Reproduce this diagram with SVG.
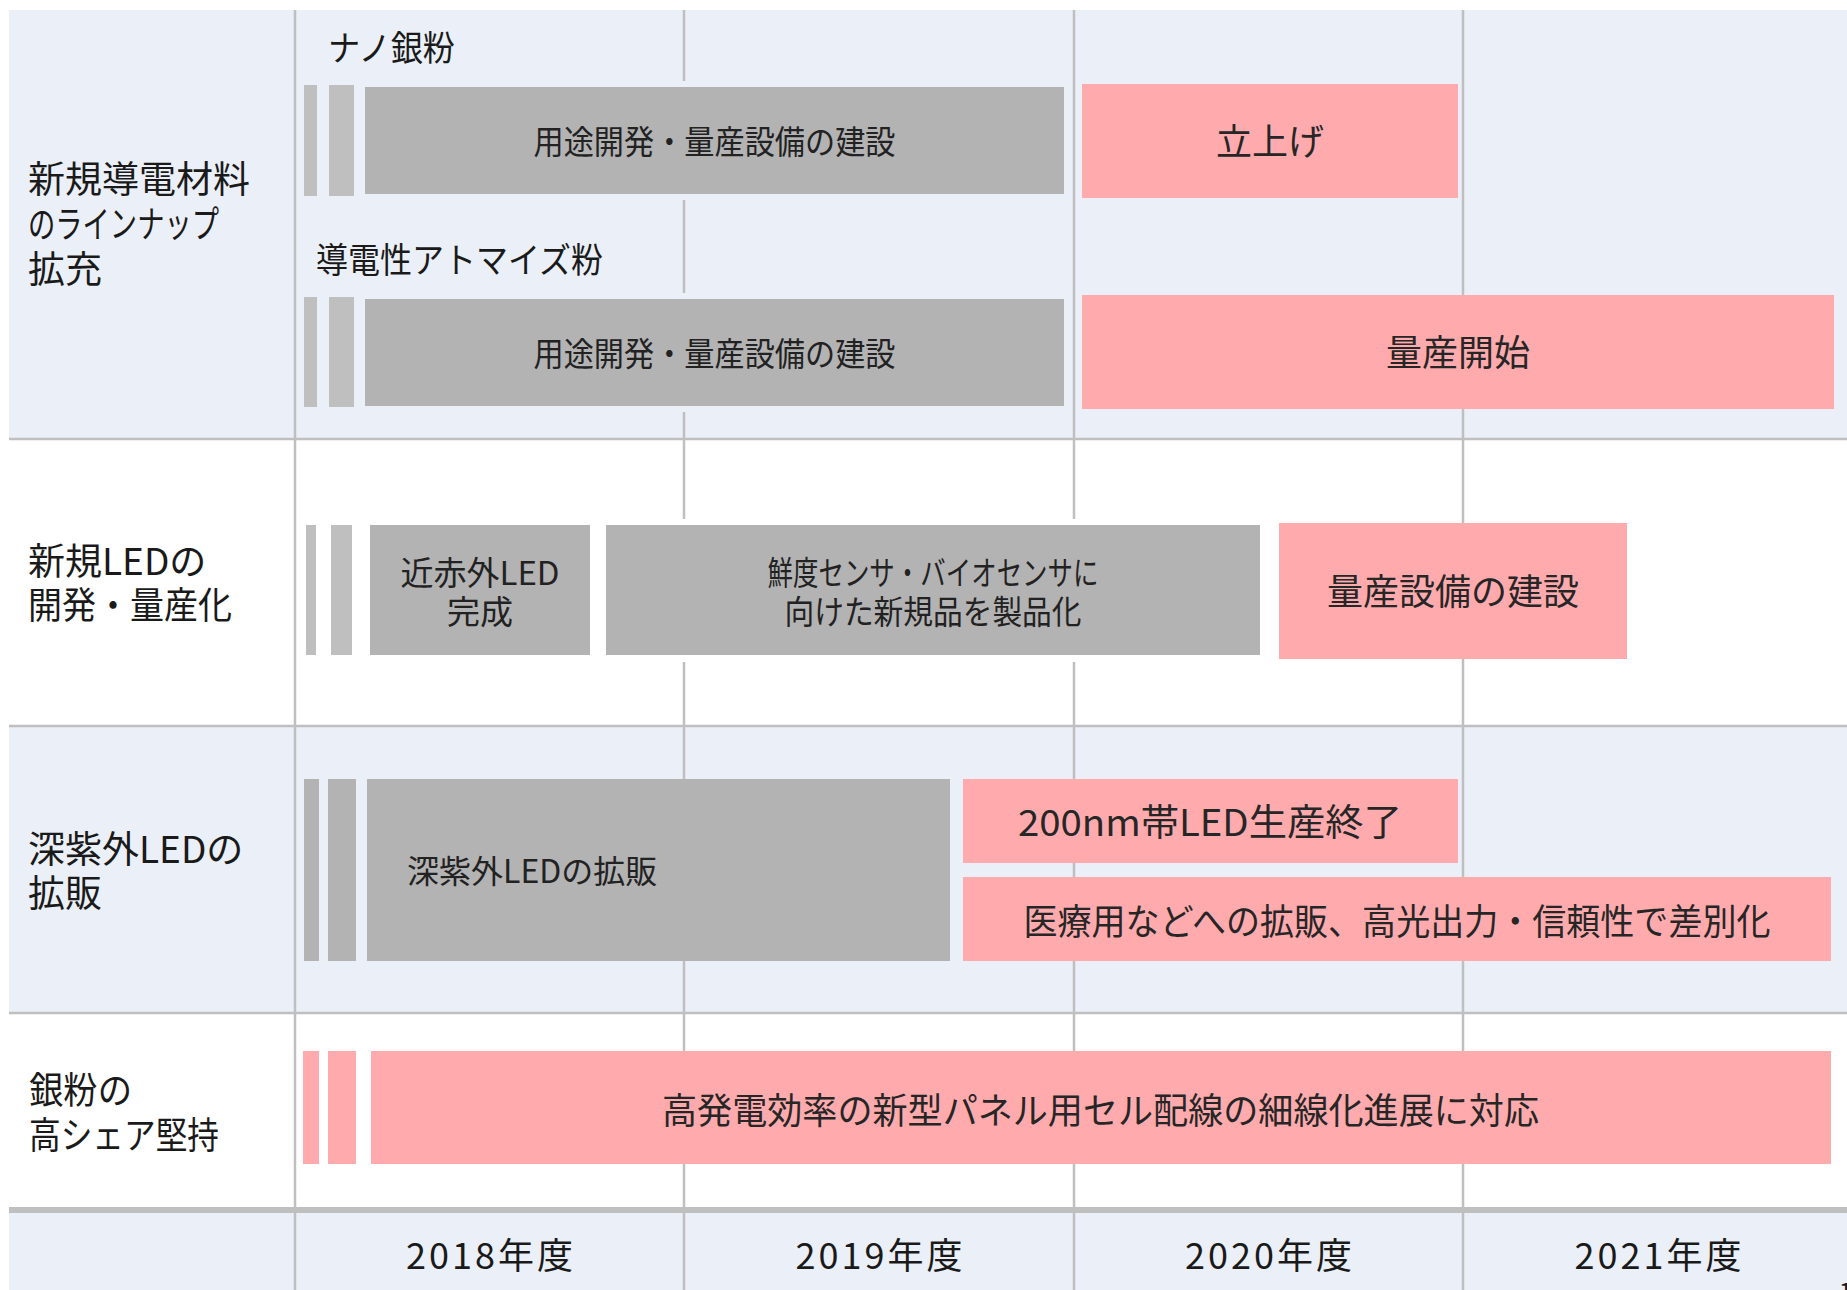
<svg xmlns="http://www.w3.org/2000/svg" width="1847" height="1290" viewBox="0 0 1847 1290">
<style>
.bg{fill:#EBF0F8}
.wh{fill:#FFFFFF}
.grid{stroke:#BFBFBF;stroke-width:2.5;fill:none}
.thick{stroke:#BFBFBF;stroke-width:6;fill:none}
.gbox{fill:#B3B3B3}
.gbar{fill:#BFBFBF}
.pbox{fill:#FFABAE}
text{font-family:"Noto Sans CJK JP","Noto Sans",sans-serif;fill:#1a1a1a}
.lbl{font-size:37px}
.sub{font-size:35px}
.bt{font-size:33px;fill:#222;text-anchor:middle}
.pt{font-size:36px;fill:#262626;text-anchor:middle}
.yr{font-size:36px;text-anchor:middle}
</style>
<g id="background">
<rect class="bg" x="9" y="10" width="1838" height="429"/>
<rect class="wh" x="9" y="439" width="1838" height="287"/>
<rect class="bg" x="9" y="726" width="1838" height="287"/>
<rect class="wh" x="9" y="1013" width="1838" height="197"/>
<rect class="bg" x="9" y="1210" width="1838" height="80"/>
</g>
<g id="grid">
<line class="grid" x1="9" y1="439" x2="1847" y2="439"/>
<line class="grid" x1="9" y1="726" x2="1847" y2="726"/>
<line class="grid" x1="9" y1="1013" x2="1847" y2="1013"/>
<line class="thick" x1="9" y1="1210" x2="1847" y2="1210"/>
<line class="grid" x1="295" y1="10" x2="295" y2="1290"/>
<line class="grid" x1="684" y1="10" x2="684" y2="1290"/>
<line class="grid" x1="1074" y1="10" x2="1074" y2="1290"/>
<line class="grid" x1="1463" y1="10" x2="1463" y2="1290"/>
</g>
<g id="halos">
<rect class="bg" x="359" y="81" width="711" height="119"/>
<rect class="bg" x="359" y="293" width="711" height="119"/>
<rect class="wh" x="600" y="519" width="666" height="143"/>
</g>
<g id="row-labels">
<text class="lbl" x="28" y="193">新規導電材料</text>
<text class="lbl" x="28" y="238" textLength="191" lengthAdjust="spacingAndGlyphs">のラインナップ</text>
<text class="lbl" x="28" y="283">拡充</text>
<text class="lbl" x="28" y="575">新規LEDの</text>
<text class="lbl" x="28" y="619" textLength="204" lengthAdjust="spacingAndGlyphs">開発・量産化</text>
<text class="lbl" x="28" y="863">深紫外LEDの</text>
<text class="lbl" x="28" y="907">拡販</text>
<text class="lbl" x="29" y="1104" textLength="103" lengthAdjust="spacingAndGlyphs">銀粉の</text>
<text class="lbl" x="29" y="1149" textLength="190" lengthAdjust="spacingAndGlyphs">高シェア堅持</text>
</g>
<g id="nano-silver">
<text class="sub" x="328" y="61" textLength="127" lengthAdjust="spacingAndGlyphs">ナノ銀粉</text>
<rect class="gbar" x="304" y="85" width="13" height="111"/>
<rect class="gbar" x="329" y="85" width="25" height="111"/>
<rect class="gbox" x="365" y="87" width="699" height="107"/>
<text class="bt" x="714.5" y="154" textLength="362" lengthAdjust="spacingAndGlyphs">用途開発・量産設備の建設</text>
</g>
<g id="nano-silver-launch">
<rect class="pbox" x="1082" y="84" width="376" height="114"/>
<text class="pt" x="1270" y="155">立上げ</text>
</g>
<g id="atomized-powder">
<text class="sub" x="316" y="273" textLength="287" lengthAdjust="spacingAndGlyphs">導電性アトマイズ粉</text>
<rect class="gbar" x="304" y="297" width="13" height="110"/>
<rect class="gbar" x="329" y="297" width="25" height="110"/>
<rect class="gbox" x="365" y="299" width="699" height="107"/>
<text class="bt" x="714.5" y="366" textLength="362" lengthAdjust="spacingAndGlyphs">用途開発・量産設備の建設</text>
</g>
<g id="atomized-mass-production">
<rect class="pbox" x="1082" y="295" width="752" height="114"/>
<text class="pt" x="1458" y="366">量産開始</text>
</g>
<g id="nir-led">
<rect class="gbar" x="306" y="525" width="10" height="130"/>
<rect class="gbar" x="331" y="525" width="21" height="130"/>
<rect class="gbox" x="370" y="525" width="220" height="130"/>
<text class="bt" x="480" y="584.5">近赤外LED</text>
<text class="bt" x="480" y="624">完成</text>
</g>
<g id="sensor-products">
<rect class="gbox" x="606" y="525" width="654" height="130"/>
<text class="bt" x="933" y="584.5" textLength="331" lengthAdjust="spacingAndGlyphs">鮮度センサ・バイオセンサに</text>
<text class="bt" x="933" y="624" textLength="297" lengthAdjust="spacingAndGlyphs">向けた新規品を製品化</text>
</g>
<g id="led-facility">
<rect class="pbox" x="1279" y="523" width="348" height="136"/>
<text class="pt" x="1453" y="604.5">量産設備の建設</text>
</g>
<g id="duv-led">
<rect class="gbox" x="304" y="779" width="15" height="182"/>
<rect class="gbox" x="328" y="779" width="28" height="182"/>
<rect class="gbox" x="367" y="779" width="583" height="182"/>
<text x="407" y="882.5" style="font-size:32px;fill:#222">深紫外LEDの拡販</text>
</g>
<g id="led-200nm-end">
<rect class="pbox" x="963" y="779" width="495" height="84"/>
<text class="pt" x="1210" y="835.5" style="font-size:37px" textLength="384" lengthAdjust="spacingAndGlyphs">200nm帯LED生産終了</text>
</g>
<g id="medical-expansion">
<rect class="pbox" x="963" y="877" width="868" height="84"/>
<text class="pt" x="1397" y="935" textLength="747" lengthAdjust="spacingAndGlyphs">医療用などへの拡販、高光出力・信頼性で差別化</text>
</g>
<g id="silver-share">
<rect class="pbox" x="303" y="1051" width="16" height="113"/>
<rect class="pbox" x="328" y="1051" width="28" height="113"/>
<rect class="pbox" x="371" y="1051" width="1460" height="113"/>
<text class="pt" x="1100.5" y="1123.5" textLength="877" lengthAdjust="spacingAndGlyphs">高発電効率の新型パネル用セル配線の細線化進展に対応</text>
</g>
<g id="years">
<text class="yr" x="489.5" y="1268.5" textLength="167" lengthAdjust="spacing">2018年度</text>
<text class="yr" x="879" y="1268.5" textLength="167" lengthAdjust="spacing">2019年度</text>
<text class="yr" x="1268.5" y="1268.5" textLength="167" lengthAdjust="spacing">2020年度</text>
<text class="yr" x="1658" y="1268.5" textLength="167" lengthAdjust="spacing">2021年度</text>
<text x="1839" y="1300" style="font-size:24px">1</text>
</g>
</svg>
